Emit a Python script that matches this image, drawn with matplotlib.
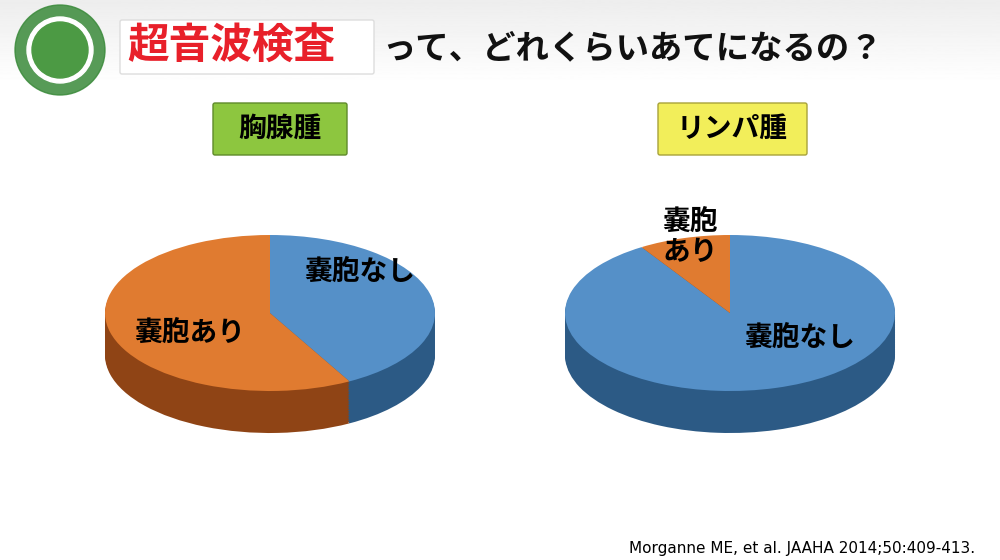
import matplotlib
matplotlib.use("Agg")
import matplotlib.pyplot as plt
import numpy as np
from matplotlib.patches import FancyBboxPatch, Circle

plt.rcParams['font.family'] = ['Noto Sans CJK JP', 'DejaVu Sans']

left_labels = ["嚢胞なし", "嚢胞あり"]
left_values = [42, 58]
right_labels = ["嚢胞なし", "嚢胞\nあり"]
right_values = [91, 9]
colors_top = ["#5590c8", "#e07b30"]
colors_side = ["#2c5a85", "#8f4415"]

fig = plt.figure(figsize=(10, 5.6), dpi=100)
bg = fig.add_axes([0, 0, 1, 1])
bg.axis('off')
grad = np.linspace(0.93, 1.0, 100).reshape(-1, 1)
bg.imshow(grad, extent=[0, 1000, 85, 0], cmap='gray', vmin=0, vmax=1, aspect='auto')
bg.set_xlim(0, 1000); bg.set_ylim(560, 0)
bg.add_patch(Circle((60, 50), 45, color="#3a8a3a", alpha=0.85))
bg.add_patch(Circle((60, 50), 33, color="white"))
bg.add_patch(Circle((60, 50), 28, color="#4c9a44"))
bg.add_patch(FancyBboxPatch((122, 22), 250, 50, boxstyle="round,pad=2", fc="white", ec="#dddddd"))
bg.text(127, 47, "超音波検査", color="#e8202a", fontsize=30, fontweight='bold', va='center')
bg.text(382, 49, "って、どれくらいあてになるの？", color="#111111", fontsize=24, fontweight='bold', va='center')
bg.add_patch(FancyBboxPatch((215, 105), 130, 48, boxstyle="round,pad=2", fc="#8dc63f", ec="#5f8a2a"))
bg.text(280, 129, "胸腺腫", fontsize=20, fontweight='bold', ha='center', va='center')
bg.add_patch(FancyBboxPatch((660, 105), 145, 48, boxstyle="round,pad=2", fc="#f2ee5a", ec="#a8a23a"))
bg.text(732, 129, "リンパ腫", fontsize=20, fontweight='bold', ha='center', va='center')
bg.text(975, 548, "Morganne ME, et al. JAAHA 2014;50:409-413.", fontsize=11, ha='right', va='center', family='DejaVu Sans')

texts = []
def pie3d(cx, cy, rx, ry, depth, values, labels, labelpos):
    W, H = 1000, 560
    ax = fig.add_axes([(cx - rx) / W, 1 - (cy + ry + depth) / H, 2 * rx / W, (2 * ry + depth) / H])
    d = depth / ry
    for k in np.linspace(d, 0.02, 25):
        ax.pie(values, colors=colors_side, startangle=90, counterclock=False, radius=1, center=(0, -k))
    ax.pie(values, colors=colors_top, startangle=90, counterclock=False, radius=1, center=(0, 0),
           wedgeprops=dict(linewidth=0))
    ax.set_aspect('auto')
    ax.set_xlim(-1, 1); ax.set_ylim(-1 - d, 1)
    ax.axis('off')
    texts.append((labels, labelpos))

pie3d(270, 313, 165, 78, 42, left_values, left_labels, [(360, 272), (190, 333)])
pie3d(730, 313, 165, 78, 42, right_values, right_labels, [(800, 338), (690, 237)])

ov = fig.add_axes([0, 0, 1, 1])
ov.set_xlim(0, 1000); ov.set_ylim(560, 0); ov.axis('off'); ov.patch.set_alpha(0)
for labels, pos in texts:
    for lab, (x, y) in zip(labels, pos):
        ov.text(x, y, lab, fontsize=20, fontweight='bold', ha='center', va='center', linespacing=1.1)

fig.savefig("out.png", dpi=100)
